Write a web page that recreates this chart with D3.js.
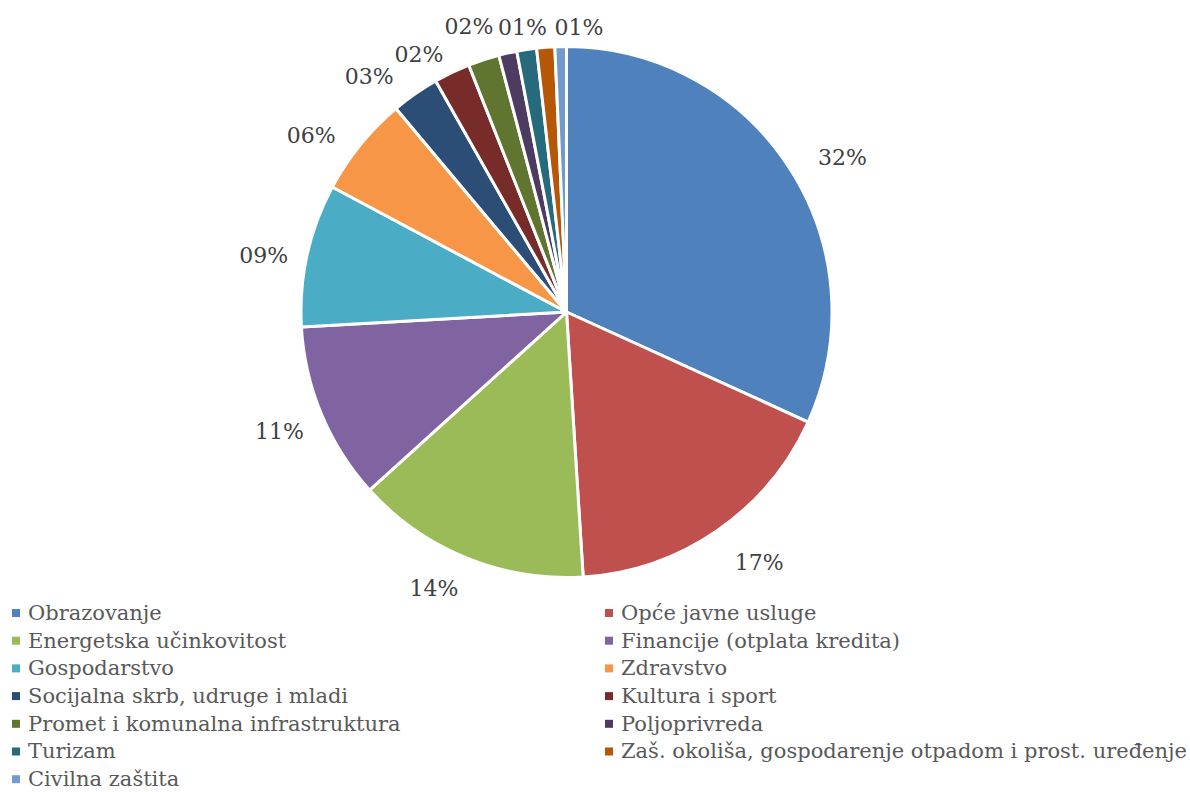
<!DOCTYPE html>
<html>
<head>
<meta charset="utf-8">
<script src="https://d3js.org/d3.v7.min.js"></script>
<style>
body{margin:0;background:#fff;}
</style>
</head>
<body>
<svg id="chart" width="1190" height="792"></svg>
<script>
// sektori i udjeli (u %) procitani sa slike
var categories=["Obrazovanje","Opće javne usluge","Energetska učinkovitost","Financije (otplata kredita)","Gospodarstvo","Zdravstvo","Socijalna skrb, udruge i mladi","Kultura i sport","Promet i komunalna infrastruktura","Poljoprivreda","Turizam","Zaš. okoliša, gospodarenje otpadom i prost. uređenje","Civilna zaštita"];
var shares=[31.8,17.2,14.3,10.8,8.7,6.1,2.9,2.2,1.9,1.1,1.2,1.1,0.7];
var colors=["#4F81BD","#C0504D","#9BBB59","#8064A2","#4BACC6","#F79646","#2C4D75","#772C2A","#5F7530","#4D3B62","#276A7C","#B65708","#729ACA"];
// Excel skriva oznake koje se preklapaju
var showLabel=[1,1,1,1,1,1,1,1,1,0,1,0,1];

var FONT="'DejaVu Serif',serif";
var cx=566.5,cy=312,r=265.5,labelR=311;
// polozaj oznaka kako ih je Excel razmaknuo (kut u stupnjevima, radijus)
var labelMove={0:[60.8,316],1:[142.4,316],2:[205.6,307],4:[280.5,308],5:[304.6,310],6:[320,307],7:[330.2,297],8:[341.1,301],10:[351.2,288],12:[2.5,285]};

var svg=d3.select("#chart");
var pie=d3.pie().sort(null).value(function(d){return d;});
var arcs=pie(shares);
var arc=d3.arc().innerRadius(0).outerRadius(r);

var g=svg.append("g").attr("transform","translate("+cx+","+cy+")");
g.selectAll("path").data(arcs).enter().append("path")
 .attr("d",arc)
 .attr("fill",function(d,i){return colors[i];})
 .attr("stroke","#fff").attr("stroke-width",3).attr("stroke-linejoin","round");

function pct(v){var s=String(Math.round(v));if(s.length<2)s="0"+s;return s+"%";}

g.selectAll("text.lbl").data(arcs).enter().filter(function(d,i){return showLabel[i];})
 .append("text").attr("class","lbl")
 .attr("transform",function(d){
   var i=d.index,a=(d.startAngle+d.endAngle)/2,rr=labelR;
   if(labelMove[i]){a=labelMove[i][0]*Math.PI/180;rr=labelMove[i][1];}
   return "translate("+(Math.sin(a)*rr)+","+(-Math.cos(a)*rr)+")";})
 .attr("text-anchor","middle").attr("dy","0.33em")
 .attr("font-family",FONT).attr("font-size",22).attr("fill","#404040")
 .text(function(d){return pct(d.value);});

// legenda u dva stupca
var leg=svg.append("g");
var item=leg.selectAll("g").data(categories).enter().append("g")
 .attr("transform",function(d,i){return "translate("+(i%2?605:12)+","+(613+Math.floor(i/2)*27.7)+")";});
item.append("rect").attr("x",0).attr("y",-4).attr("width",8).attr("height",8)
 .attr("fill",function(d,i){return colors[i];});
item.append("text").attr("x",16).attr("dy","0.33em")
 .attr("font-family",FONT).attr("font-size",21).attr("fill","#595959")
 .text(function(d){return d;});
</script>
</body>
</html>
